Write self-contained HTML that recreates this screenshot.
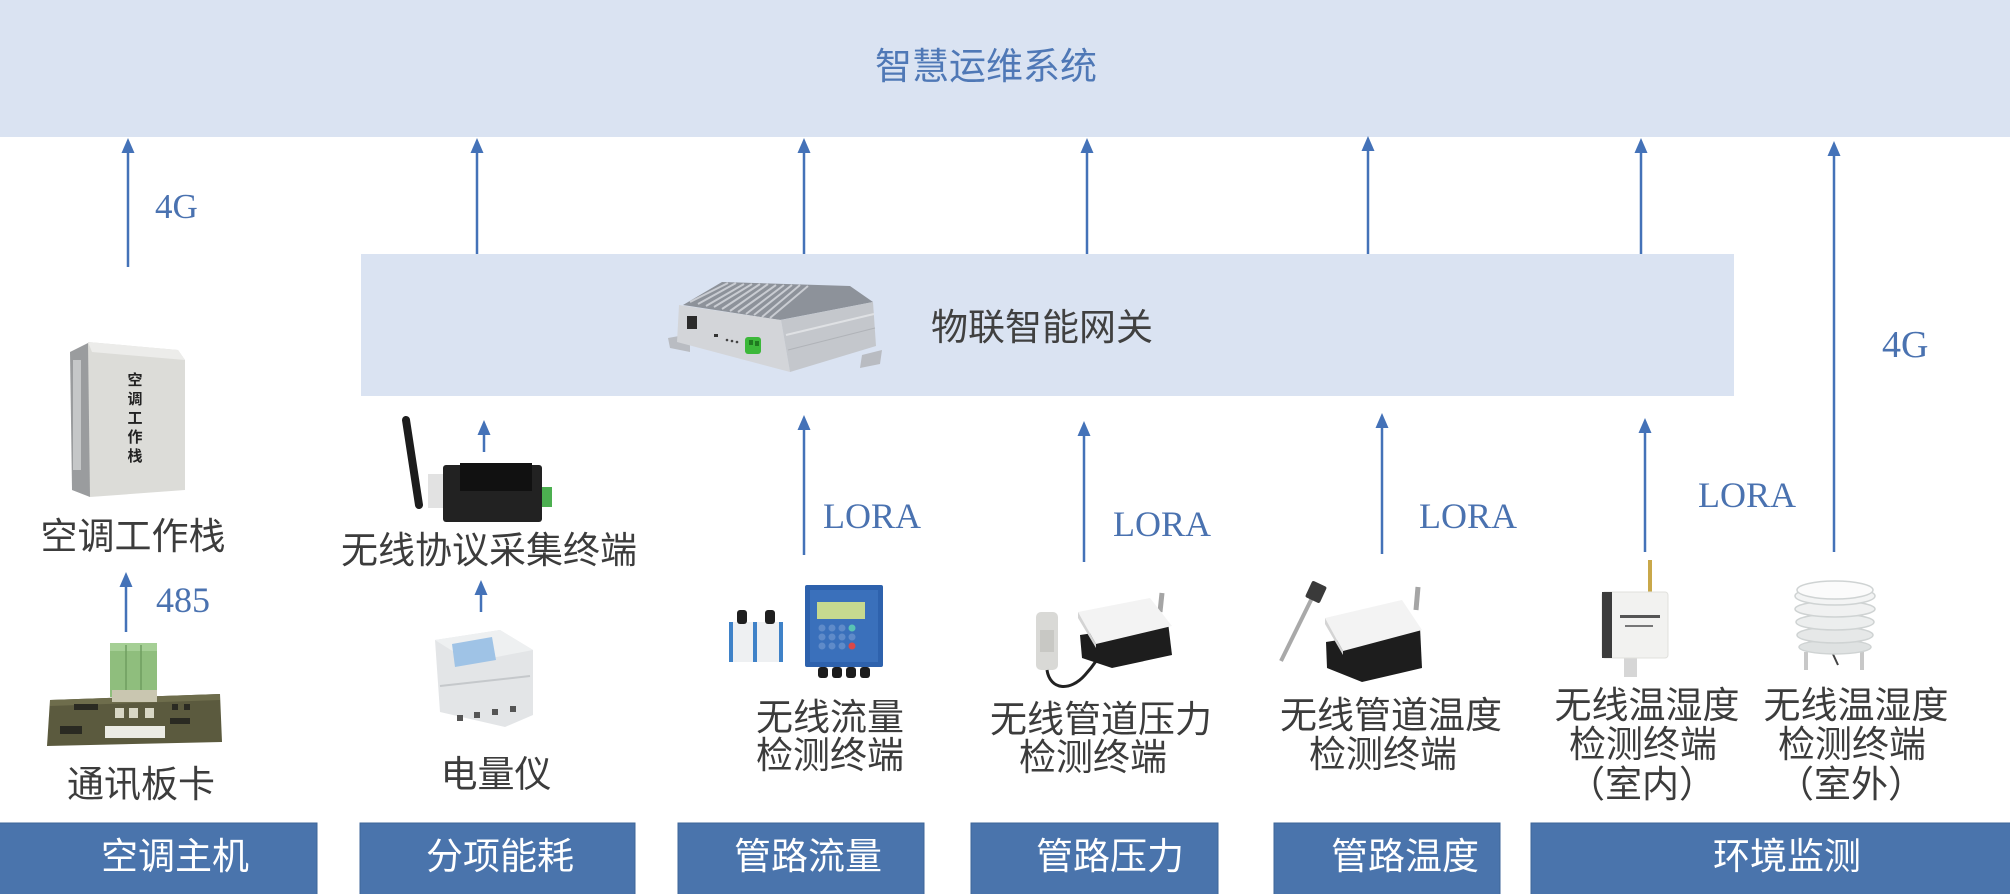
<!DOCTYPE html>
<html>
<head>
<meta charset="utf-8">
<style>
html,body{margin:0;padding:0;background:#fff;}
body{width:2010px;height:894px;overflow:hidden;}
svg{display:block;}
.cjk{font-family:"Liberation Sans","Noto Sans CJK SC","WenQuanYi Zen Hei",sans-serif;}
.lat{font-family:"Liberation Serif",serif;}
</style>
</head>
<body>
<svg width="2010" height="894" viewBox="0 0 2010 894" xmlns="http://www.w3.org/2000/svg">
  <!-- Top system box -->
  <rect x="0" y="0" width="2010" height="137" fill="#dae3f2"/>
  <text class="cjk" x="986" y="79" font-size="37" fill="#4f78b6" text-anchor="middle">智慧运维系统</text>

  <!-- Gateway box -->
  <rect x="361" y="254" width="1373" height="142" fill="#dae3f2"/>
  <text class="cjk" x="1042" y="340" font-size="37" fill="#404040" text-anchor="middle">物联智能网关</text>

  <!-- Gateway device -->
  <g>
    <polygon points="668,338 690,334 690,352 670,348" fill="#b9bcc2"/>
    <polygon points="862,355 882,350 880,364 860,368" fill="#b9bcc2"/>
    <polygon points="683,305 722,282 850,286 873,302 780,320" fill="#8d929a"/>
    <g stroke="#c9ccd2" stroke-width="2">
      <line x1="690" y1="302" x2="728" y2="283"/>
      <line x1="698" y1="304" x2="736" y2="283"/>
      <line x1="706" y1="306" x2="744" y2="284"/>
      <line x1="714" y1="307" x2="752" y2="284"/>
      <line x1="722" y1="309" x2="760" y2="284"/>
      <line x1="730" y1="311" x2="768" y2="284"/>
      <line x1="738" y1="312" x2="776" y2="285"/>
      <line x1="746" y1="314" x2="784" y2="285"/>
      <line x1="754" y1="315" x2="792" y2="285"/>
      <line x1="762" y1="317" x2="800" y2="285"/>
      <line x1="770" y1="318" x2="808" y2="286"/>
    </g>
    <polygon points="679,305 781,320 790,372 677,342" fill="#d3d5d9"/>
    <polygon points="781,320 873,302 876,346 790,372" fill="#c4c7cc"/>
    <line x1="786" y1="335" x2="874" y2="314" stroke="#dfe1e4" stroke-width="2"/>
    <line x1="788" y1="350" x2="875" y2="328" stroke="#b0b3b8" stroke-width="1"/>
    <rect x="687" y="316" width="10" height="13" fill="#2b2b2b"/>
    <rect x="714" y="334" width="4" height="3" fill="#333"/>
    <circle cx="727" cy="340" r="1.3" fill="#444"/>
    <circle cx="732" cy="341" r="1.3" fill="#444"/>
    <circle cx="737" cy="342" r="1.3" fill="#444"/>
    <rect x="745" y="337" width="16" height="17" rx="3" fill="#3cb83a"/>
    <rect x="749" y="340" width="4" height="5" fill="#1f7a20"/>
    <rect x="755" y="341" width="4" height="5" fill="#1f7a20"/>
  </g>

  <!-- Arrows -->
  <g stroke="#4472b8" stroke-width="2.5" fill="none">
    <line x1="128" y1="267" x2="128" y2="150"/>
    <line x1="477" y1="254" x2="477" y2="150"/>
    <line x1="804" y1="254" x2="804" y2="150"/>
    <line x1="1087" y1="254" x2="1087" y2="150"/>
    <line x1="1368" y1="254" x2="1368" y2="150"/>
    <line x1="1641" y1="254" x2="1641" y2="150"/>
    <line x1="1834" y1="552" x2="1834" y2="150"/>
    <line x1="484" y1="452" x2="484" y2="432"/>
    <line x1="804" y1="555" x2="804" y2="427"/>
    <line x1="1084" y1="562" x2="1084" y2="433"/>
    <line x1="1382" y1="554" x2="1382" y2="425"/>
    <line x1="1645" y1="552" x2="1645" y2="430"/>
    <line x1="126" y1="632" x2="126" y2="584"/>
    <line x1="481" y1="612" x2="481" y2="592"/>
  </g>
  <g fill="#4472b8">
    <polygon points="128,138 121.5,153 134.5,153"/>
    <polygon points="477,138 470.5,153 483.5,153"/>
    <polygon points="804,138 797.5,153 810.5,153"/>
    <polygon points="1087,138 1080.5,153 1093.5,153"/>
    <polygon points="1368,136 1361.5,151 1374.5,151"/>
    <polygon points="1641,138 1634.5,153 1647.5,153"/>
    <polygon points="1834,141 1827.5,156 1840.5,156"/>
    <polygon points="484,420 477.5,435 490.5,435"/>
    <polygon points="804,415 797.5,430 810.5,430"/>
    <polygon points="1084,421 1077.5,436 1090.5,436"/>
    <polygon points="1382,413 1375.5,428 1388.5,428"/>
    <polygon points="1645,418 1638.5,433 1651.5,433"/>
    <polygon points="126,572 119.5,587 132.5,587"/>
    <polygon points="481,580 474.5,595 487.5,595"/>
  </g>

  <!-- Latin labels -->
  <g class="lat" fill="#4a72b0">
    <text x="155" y="218" font-size="35">4G</text>
    <text x="1882" y="357" font-size="38">4G</text>
    <text x="156" y="612" font-size="36">485</text>
    <text x="823" y="528" font-size="36">LORA</text>
    <text x="1113" y="536" font-size="36">LORA</text>
    <text x="1419" y="528" font-size="36">LORA</text>
    <text x="1698" y="507" font-size="36">LORA</text>
  </g>

  <!-- Cabinet 空调工作栈 -->
  <g>
    <polygon points="70,352 90,342 90,497 72,490" fill="#9a9c9e"/>
    <rect x="73" y="360" width="8" height="110" fill="#c5c7c8"/>
    <polygon points="88,342 178,350 185,360 185,490 90,497" fill="#dcdcd8"/>
    <polygon points="88,342 178,350 185,360 92,352" fill="#ececea"/>
    <g class="cjk" font-size="15" font-weight="bold" fill="#222" text-anchor="middle">
      <text x="135" y="385">空</text>
      <text x="135" y="404">调</text>
      <text x="135" y="423">工</text>
      <text x="135" y="442">作</text>
      <text x="135" y="461">栈</text>
    </g>
  </g>

  <!-- Board 通讯板卡 -->
  <g>
    <polygon points="50,700 220,694 222,742 47,746" fill="#5b5a3e"/>
    <polygon points="50,700 220,694 220,700 50,706" fill="#6e6d4c"/>
    <rect x="110" y="643" width="47" height="54" fill="#8fbe7d"/>
    <rect x="110" y="643" width="47" height="8" fill="#a5cf95"/>
    <line x1="126" y1="645" x2="126" y2="697" stroke="#6f9e60" stroke-width="1.5"/>
    <line x1="141" y1="645" x2="141" y2="697" stroke="#6f9e60" stroke-width="1.5"/>
    <rect x="112" y="690" width="45" height="12" fill="#c9c6b0"/>
    <rect x="115" y="708" width="9" height="10" fill="#d8d7c5"/>
    <rect x="129" y="708" width="9" height="10" fill="#d8d7c5"/>
    <rect x="145" y="708" width="9" height="10" fill="#d8d7c5"/>
    <rect x="105" y="726" width="60" height="12" fill="#ebebe4"/>
    <g fill="#2a2a22">
      <rect x="74" y="704" width="24" height="6"/>
      <rect x="170" y="718" width="20" height="6"/>
      <rect x="60" y="726" width="22" height="8"/>
      <rect x="172" y="704" width="6" height="6"/>
      <rect x="184" y="704" width="6" height="6"/>
    </g>
  </g>

  <!-- Wireless protocol terminal -->
  <g>
    <line x1="406" y1="420" x2="419" y2="505" stroke="#1c1c1c" stroke-width="8" stroke-linecap="round"/>
    <rect x="428" y="474" width="18" height="34" fill="#e2e2e2"/>
    <rect x="443" y="465" width="99" height="57" rx="3" fill="#222"/>
    <rect x="460" y="463" width="72" height="28" fill="#111"/>
    <rect x="542" y="487" width="10" height="20" fill="#4caf50"/>
  </g>

  <!-- Meter 电量仪 -->
  <g>
    <polygon points="435,640 500,630 533,650 533,715 505,727 440,712" fill="#e3e5e7"/>
    <polygon points="435,640 500,630 533,650 470,662" fill="#eef0f1"/>
    <polygon points="452,644 492,637 496,660 455,667" fill="#9fc3e6"/>
    <line x1="440" y1="686" x2="530" y2="676" stroke="#c5c8cb" stroke-width="2"/>
    <g fill="#555">
      <rect x="457" y="715" width="6" height="6"/>
      <rect x="474" y="712" width="6" height="6"/>
      <rect x="492" y="709" width="6" height="6"/>
      <rect x="510" y="706" width="6" height="6"/>
    </g>
  </g>

  <!-- Flow terminal -->
  <g>
    <rect x="729" y="622" width="26" height="40" fill="#eef0f2"/>
    <rect x="757" y="622" width="26" height="40" fill="#eef0f2"/>
    <rect x="729" y="622" width="4" height="40" fill="#3f82c8"/>
    <rect x="753" y="622" width="4" height="40" fill="#3f82c8"/>
    <rect x="779" y="622" width="4" height="40" fill="#3f82c8"/>
    <rect x="737" y="610" width="10" height="14" rx="3" fill="#1f1f1f"/>
    <rect x="765" y="610" width="10" height="14" rx="3" fill="#1f1f1f"/>
    <rect x="805" y="585" width="78" height="82" rx="2" fill="#2e62ad"/>
    <rect x="810" y="590" width="68" height="72" fill="#3a70bb"/>
    <rect x="817" y="602" width="48" height="17" fill="#c6d98f"/>
    <g fill="#5f8bc9">
      <circle cx="822" cy="628" r="3.5"/><circle cx="832" cy="628" r="3.5"/><circle cx="842" cy="628" r="3.5"/><circle cx="852" cy="628" r="3.5" fill="#59c3b3"/>
      <circle cx="822" cy="637" r="3.5"/><circle cx="832" cy="637" r="3.5"/><circle cx="842" cy="637" r="3.5"/><circle cx="852" cy="637" r="3.5"/>
      <circle cx="822" cy="646" r="3.5"/><circle cx="832" cy="646" r="3.5"/><circle cx="842" cy="646" r="3.5"/><circle cx="852" cy="646" r="3.5" fill="#d94848"/>
    </g>
    <g fill="#1c1c1c">
      <rect x="818" y="667" width="10" height="11" rx="3"/>
      <rect x="832" y="667" width="10" height="11" rx="3"/>
      <rect x="846" y="667" width="10" height="11" rx="3"/>
      <rect x="860" y="667" width="10" height="11" rx="3"/>
    </g>
  </g>

  <!-- Pressure terminal -->
  <g>
    <rect x="1036" y="612" width="22" height="58" rx="5" fill="#d9d9d6"/>
    <rect x="1040" y="630" width="14" height="22" fill="#c8c8c4"/>
    <path d="M1047,670 C1050,690 1070,692 1085,675 C1095,664 1100,655 1104,648" stroke="#222" stroke-width="3" fill="none"/>
    <line x1="1162" y1="593" x2="1160" y2="612" stroke="#a5a5a5" stroke-width="5"/>
    <polygon points="1080,635 1168,622 1172,655 1112,668 1082,658" fill="#1d1d1d"/>
    <polygon points="1078,612 1150,598 1172,626 1096,644" fill="#f3f3f3"/>
    <polygon points="1078,612 1096,644 1096,648 1078,618" fill="#d4d4d4"/>
  </g>

  <!-- Temperature terminal -->
  <g>
    <line x1="1281" y1="661" x2="1313" y2="596" stroke="#a9a9a9" stroke-width="4"/>
    <rect x="1308" y="583" width="16" height="18" rx="2" fill="#3a3a3a" transform="rotate(25 1316 592)"/>
    <line x1="1418" y1="587" x2="1416" y2="610" stroke="#a5a5a5" stroke-width="5"/>
    <polygon points="1326,642 1420,627 1422,668 1362,682 1327,668" fill="#1d1d1d"/>
    <polygon points="1325,618 1402,600 1422,630 1343,651" fill="#f3f3f3"/>
    <polygon points="1325,618 1343,651 1343,655 1325,624" fill="#d4d4d4"/>
  </g>

  <!-- Indoor temp/humidity -->
  <g>
    <line x1="1650" y1="560" x2="1650" y2="594" stroke="#c9a84a" stroke-width="4"/>
    <rect x="1624" y="657" width="13" height="20" fill="#d6d6d6"/>
    <rect x="1602" y="592" width="66" height="66" rx="3" fill="#f2f2f0" stroke="#e0e0dc"/>
    <rect x="1602" y="592" width="10" height="66" fill="#3c3c3c"/>
    <rect x="1620" y="615" width="40" height="3" fill="#555"/>
    <rect x="1625" y="625" width="28" height="2" fill="#777"/>
  </g>

  <!-- Outdoor radiation shield -->
  <g>
    <line x1="1806" y1="652" x2="1806" y2="670" stroke="#c8c8c8" stroke-width="4"/>
    <line x1="1862" y1="652" x2="1862" y2="670" stroke="#c8c8c8" stroke-width="4"/>
    <line x1="1832" y1="652" x2="1838" y2="665" stroke="#444" stroke-width="2"/>
    <g stroke="#cfd3d3" stroke-width="1.5">
      <ellipse cx="1835" cy="647" rx="36" ry="7" fill="#dfe2e2"/>
      <ellipse cx="1835" cy="635" rx="38" ry="8" fill="#e6e8e8"/>
      <ellipse cx="1835" cy="622" rx="39" ry="8" fill="#eceeee"/>
      <ellipse cx="1835" cy="609" rx="40" ry="8" fill="#f0f1f1"/>
      <ellipse cx="1835" cy="596" rx="40" ry="9" fill="#f3f4f4"/>
      <ellipse cx="1835" cy="590" rx="38" ry="9" fill="#fbfbfb"/>
    </g>
  </g>

  <!-- Device labels -->
  <g class="cjk" font-size="37" fill="#3c3c3c" text-anchor="middle">
    <text x="133" y="549">空调工作栈</text>
    <text x="141" y="797">通讯板卡</text>
    <text x="489" y="563">无线协议采集终端</text>
    <text x="496" y="787">电量仪</text>
    <text x="830" y="730">无线流量</text>
    <text x="830" y="768">检测终端</text>
    <text x="1101" y="732">无线管道压力</text>
    <text x="1093" y="770">检测终端</text>
    <text x="1391" y="728">无线管道温度</text>
    <text x="1383" y="767">检测终端</text>
    <text x="1647" y="718">无线温湿度</text>
    <text x="1643" y="757">检测终端</text>
    <text x="1642" y="797">（室内）</text>
    <text x="1856" y="718">无线温湿度</text>
    <text x="1852" y="757">检测终端</text>
    <text x="1851" y="797">（室外）</text>
  </g>

  <!-- Bottom category bars -->
  <g fill="#4a74ac" stroke="#3e6698" stroke-width="1">
    <rect x="-1" y="823" width="318" height="72"/>
    <rect x="360" y="823" width="275" height="72"/>
    <rect x="678" y="823" width="246" height="72"/>
    <rect x="971" y="823" width="247" height="72"/>
    <rect x="1274" y="823" width="226" height="72"/>
    <rect x="1531" y="823" width="480" height="72"/>
  </g>
  <g class="cjk" font-size="37" fill="#ffffff" text-anchor="middle">
    <text x="175" y="869">空调主机</text>
    <text x="500" y="869">分项能耗</text>
    <text x="808" y="869">管路流量</text>
    <text x="1110" y="869">管路压力</text>
    <text x="1405" y="869">管路温度</text>
    <text x="1787" y="869">环境监测</text>
  </g>
</svg>
</body>
</html>
